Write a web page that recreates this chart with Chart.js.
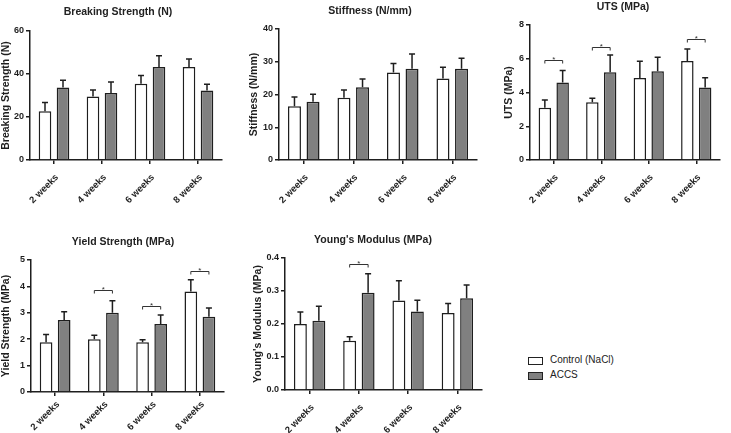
<!DOCTYPE html>
<html><head><meta charset="utf-8">
<script src="https://cdn.jsdelivr.net/npm/chart.js@4.4.1/dist/chart.umd.min.js"></script>
<style>
html,body{margin:0;padding:0;background:#fff;}
body{width:731px;height:433px;position:relative;overflow:hidden;font-family:"Liberation Sans",Arial,sans-serif;color:#222;}
canvas{position:absolute;}
.ttl{position:absolute;font-weight:bold;font-size:10.5px;white-space:nowrap;transform:translate(-50%,-50%);color:#222;}
.leg{position:absolute;font-size:10px;white-space:nowrap;color:#222;}
.box{position:absolute;width:13px;height:6px;border:1px solid #222;}
</style></head>
<body>
<canvas id="c1" width="230" height="210" style="left:0;top:0"></canvas>
<canvas id="c2" width="245" height="210" style="left:240px;top:0"></canvas>
<canvas id="c3" width="241" height="210" style="left:490px;top:0"></canvas>
<canvas id="c4" width="235" height="223" style="left:0;top:210px"></canvas>
<canvas id="c5" width="250" height="223" style="left:240px;top:210px"></canvas>

<div class="ttl" style="left:118px;top:11px">Breaking Strength (N)</div>
<div class="ttl" style="left:370px;top:10px">Stiffness (N/mm)</div>
<div class="ttl" style="left:623px;top:6px">UTS (MPa)</div>
<div class="ttl" style="left:123px;top:241px">Yield Strength (MPa)</div>
<div class="ttl" style="left:373px;top:239px">Young's Modulus (MPa)</div>

<div class="box" style="left:528px;top:357px;background:#fff"></div>
<div class="leg" style="left:550px;top:354px" id="l1"></div>
<div class="box" style="left:528px;top:372px;background:#808080"></div>
<div class="leg" style="left:550px;top:369px" id="l2"></div>

<script>
const categories = ['2 weeks', '4 weeks', '6 weeks', '8 weeks'];
const seriesNames = ['Control (NaCl)', 'ACCS'];

const breakingControl = [22.7, 29.5, 35.5, 43.3];
const breakingControlErr = [4.0, 3.1, 3.8, 3.7];
const breakingAccs = [33.7, 31.2, 43.3, 32.3];
const breakingAccsErr = [3.4, 5.1, 5.2, 2.9];

const stiffControl = [16.4, 19.0, 26.7, 24.9];
const stiffControlErr = [2.8, 2.4, 2.8, 3.4];
const stiffAccs = [17.8, 22.2, 27.9, 27.9];
const stiffAccsErr = [2.3, 2.5, 4.5, 3.2];

const utsControl = [3.10, 3.42, 4.86, 5.87];
const utsControlErr = [0.46, 0.24, 0.99, 0.71];
const utsAccs = [4.60, 5.20, 5.26, 4.29];
const utsAccsErr = [0.70, 1.02, 0.83, 0.59];
const utsSigCats = [0, 1, 3];
const utsSigLevels = [5.9, 6.72, 7.15];

const yieldControl = [1.88, 2.00, 1.88, 3.81];
const yieldControlErr = [0.30, 0.15, 0.10, 0.44];
const yieldAccs = [2.73, 3.00, 2.58, 2.85];
const yieldAccsErr = [0.31, 0.46, 0.34, 0.33];
const yieldSigCats = [1, 2, 3];
const yieldSigLevels = [3.86, 3.27, 4.6];

const youngControl = [0.200, 0.149, 0.271, 0.233];
const youngControlErr = [0.036, 0.012, 0.060, 0.029];
const youngAccs = [0.210, 0.295, 0.238, 0.278];
const youngAccsErr = [0.044, 0.057, 0.034, 0.040];
const youngSigCats = [1];
const youngSigLevels = [0.381];

document.getElementById('l1').textContent = seriesNames[0];
document.getElementById('l2').textContent = seriesNames[1];

const INK = '#1e1e1e';
const FONT = '"Liberation Sans", Arial, sans-serif';

const errPlugin = {
  id: 'errbars',
  afterDatasetsDraw(chart) {
    const ctx = chart.ctx;
    const ys = chart.scales.y;
    ctx.save();
    ctx.strokeStyle = INK;
    ctx.lineWidth = 1.5;
    chart.data.datasets.forEach((ds, di) => {
      const meta = chart.getDatasetMeta(di);
      meta.data.forEach((bar, i) => {
        const top = ys.getPixelForValue(ds.data[i] + ds.err[i]);
        ctx.beginPath();
        ctx.moveTo(bar.x, bar.y);
        ctx.lineTo(bar.x, top);
        ctx.moveTo(bar.x - 3, top);
        ctx.lineTo(bar.x + 3, top);
        ctx.stroke();
      });
    });
    const sig = chart.options.plugins.errbars || {};
    const cats = sig.cats || [], levels = sig.levels || [];
    const m0 = chart.getDatasetMeta(0), m1 = chart.getDatasetMeta(1);
    ctx.lineWidth = 1;
    ctx.strokeStyle = '#333';
    ctx.fillStyle = '#333';
    ctx.font = '8px ' + FONT;
    ctx.textAlign = 'center';
    ctx.textBaseline = 'bottom';
    cats.forEach((c, k) => {
      const x1 = m0.data[c].x, x2 = m1.data[c].x;
      const y = Math.round(ys.getPixelForValue(levels[k])) + 0.5;
      ctx.beginPath();
      ctx.moveTo(x1, y + 3);
      ctx.lineTo(x1, y);
      ctx.lineTo(x2, y);
      ctx.lineTo(x2, y + 3);
      ctx.stroke();
      ctx.fillText('*', (x1 + x2) / 2, y + 3);
    });
    ctx.restore();
  }
};

function makeChart(id, ctrl, ctrlErr, accs, accsErr, yTitle, yMax, yStep, pad, yWidth, xHeight, sigCats, sigLevels, dec, xPad) {
  return new Chart(document.getElementById(id), {
    type: 'bar',
    data: {
      labels: categories,
      datasets: [
        { label: seriesNames[0], data: ctrl, err: ctrlErr, backgroundColor: '#ffffff', borderColor: INK, borderWidth: 1.5 },
        { label: seriesNames[1], data: accs, err: accsErr, backgroundColor: '#808080', borderColor: INK, borderWidth: 1.5 }
      ]
    },
    options: {
      responsive: false,
      animation: false,
      events: [],
      layout: { padding: pad },
      datasets: { bar: { categoryPercentage: 0.75, barPercentage: 0.7 } },
      plugins: {
        legend: { display: false },
        title: { display: false },
        tooltip: { enabled: false },
        errbars: { cats: sigCats, levels: sigLevels }
      },
      scales: {
        x: {
          grid: { display: true, drawOnChartArea: false, drawTicks: true, tickLength: 4, color: INK, lineWidth: 1.5, offset: false },
          border: { display: true, color: INK, width: 1.5 },
          ticks: { minRotation: 45, maxRotation: 45, padding: xPad, labelOffset: 3, color: INK, font: { family: FONT, size: 9.5, weight: 'bold' } },
          afterFit(s) { s.height = xHeight; }
        },
        y: {
          min: 0, max: yMax,
          grid: { display: true, drawOnChartArea: false, drawTicks: true, tickLength: 4, color: INK, lineWidth: 1.5 },
          border: { display: true, color: INK, width: 1.5 },
          ticks: { stepSize: yStep, padding: 2, color: INK, font: { family: FONT, size: 9, weight: 'bold' },
                   callback: v => dec ? v.toFixed(dec) : v },
          title: { display: true, text: yTitle, color: INK, padding: { top: 0, bottom: 2 }, font: { family: FONT, size: 10.5, weight: 'bold' } },
          afterFit(s) { s.width = yWidth; }
        }
      }
    },
    plugins: [errPlugin]
  });
}

makeChart('c1', breakingControl, breakingControlErr, breakingAccs, breakingAccsErr, 'Breaking Strength (N)', 60, 20,
  { left: 0, top: 31, right: 8, bottom: 0 }, 30, 50, [], [], 0, 8);
makeChart('c2', stiffControl, stiffControlErr, stiffAccs, stiffAccsErr, 'Stiffness (N/mm)', 40, 10,
  { left: 8, top: 29, right: 8, bottom: 0 }, 31, 50, [], [], 0, 8);
makeChart('c3', utsControl, utsControlErr, utsAccs, utsAccsErr, 'UTS (MPa)', 8, 2,
  { left: 13, top: 25, right: 11, bottom: 0 }, 27, 50, utsSigCats, utsSigLevels, 0, 8);
makeChart('c4', yieldControl, yieldControlErr, yieldAccs, yieldAccsErr, 'Yield Strength (MPa)', 5, 1,
  { left: 0, top: 50, right: 11, bottom: 0 }, 31, 41, yieldSigCats, yieldSigLevels, 0, 3);
makeChart('c5', youngControl, youngControlErr, youngAccs, youngAccsErr, "Young's Modulus (MPa)", 0.4, 0.1,
  { left: 12, top: 48, right: 8, bottom: 0 }, 33, 43, youngSigCats, youngSigLevels, 1, 8);
</script>
</body></html>
